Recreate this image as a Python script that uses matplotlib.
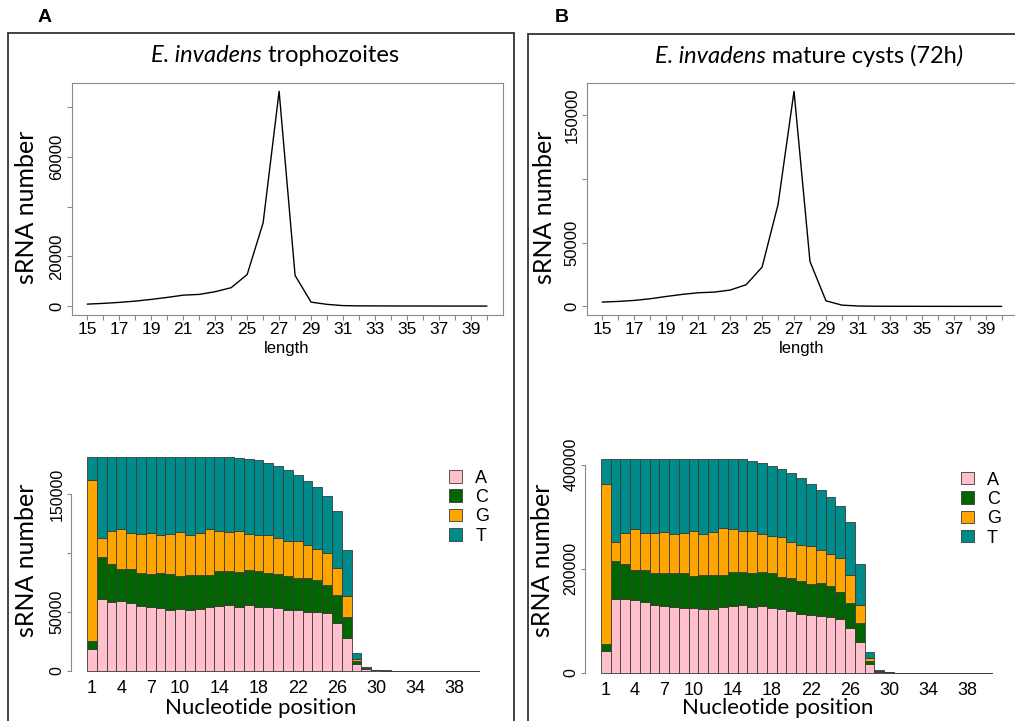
import numpy as np
import matplotlib
matplotlib.use("Agg")
import matplotlib.pyplot as plt
from matplotlib.patches import Rectangle
from matplotlib.offsetbox import TextArea, HPacker, AnnotationBbox

# sRNA length distribution (15..40 nt)
lengths = list(range(15, 41))
troph_len = [800, 1100, 1500, 2000, 2700, 3500, 4400, 4700, 5800, 7400, 12700, 33500, 86300,
             12300, 1600, 700, 200, 100, 80, 60, 50, 40, 30, 20, 20, 10]
cyst_len = [3400, 3900, 4700, 6000, 7800, 9400, 10700, 11200, 12800, 17000, 30800, 79900, 168600,
            35200, 4400, 1000, 300, 150, 100, 80, 60, 40, 30, 20, 20, 10]

# nucleotide composition per position (1..40)
positions = list(range(1, 41))
troph_A = [18700, 61400, 58900, 59700, 57700, 55200, 54300, 53200, 52100, 52900,
           52100, 52600, 54000, 55500, 56000, 54600, 55800, 54600, 54600, 53500,
           52100, 51500, 50400, 50100, 49200, 41000, 28000, 5900, 1400, 500,
           250, 150, 120, 100, 80, 60, 40, 30, 20, 10]
troph_C = [6500, 35400, 31700, 26600, 28900, 27700, 28300, 29700, 30300, 27800,
           29400, 29200, 27800, 29100, 28600, 29200, 30200, 30300, 28600, 29100,
           28600, 27500, 28300, 26900, 23500, 23200, 17800, 2600, 500, 200,
           100, 80, 60, 50, 40, 30, 20, 15, 10, 6]
troph_G = [136400, 15550, 28000, 33700, 30000, 33100, 34000, 32300, 33300, 36700,
           34000, 34800, 38200, 34000, 33100, 34500, 30300, 30300, 32000, 29800,
           29400, 30800, 28300, 26600, 27500, 23000, 17900, 2000, 400, 100,
           100, 60, 50, 40, 30, 20, 15, 10, 8, 5]
troph_T = [19800, 69050, 62800, 61400, 64800, 65400, 64800, 66200, 65700, 64000,
           65900, 64800, 61400, 62800, 63700, 62500, 63700, 63400, 61100, 61600,
           60500, 56300, 54300, 52100, 48100, 48400, 38500, 5100, 800, 300,
           150, 110, 70, 60, 50, 40, 25, 25, 12, 9]

cyst_A = [42200, 142700, 142100, 140200, 136300, 130600, 128600, 126700, 124200, 124800,
          122200, 123500, 126100, 128600, 130600, 126100, 128000, 124200, 122900, 119000,
          113900, 110700, 109400, 107500, 103700, 85800, 60200, 17300, 2600, 600,
          300, 200, 150, 120, 90, 70, 50, 30, 20, 10]
cyst_C = [14100, 72300, 67200, 57600, 60800, 60800, 62800, 64700, 67200, 60800,
          65300, 64000, 61400, 65300, 64000, 65300, 66600, 67200, 62100, 63400,
          62700, 60200, 62800, 58900, 51800, 48600, 35200, 5700, 1000, 250,
          100, 80, 60, 50, 40, 30, 20, 15, 10, 5]
cyst_G = [307200, 37200, 60100, 78000, 71100, 78000, 80000, 76100, 78000, 87000,
          80000, 83900, 90300, 81900, 78700, 81200, 72300, 71000, 76100, 69800,
          69800, 73600, 64600, 61400, 64700, 53100, 35800, 5800, 900, 200,
          100, 70, 50, 40, 30, 20, 15, 10, 8, 4]
cyst_T = [46700, 158000, 140800, 134400, 142000, 140800, 138800, 142700, 140800, 137600,
          142700, 138800, 132400, 134400, 136900, 134400, 136300, 135000, 129900, 131200,
          127400, 117700, 114600, 110100, 99800, 101800, 78700, 12200, 1900, 300,
          150, 100, 80, 60, 50, 40, 30, 20, 12, 6]

bases = ["A", "C", "G", "T"]
base_colors = ["#FFC0CB", "#006400", "#FFA500", "#008B8B"]

W, H = 1015, 721
fig = plt.figure(figsize=(W / 100, H / 100), dpi=100)

TICKFONT = "Liberation Sans"
LABFONT = "Lato"
AXCOL = "#8a8a8a"


def px_axes(l, t, r, b):
    return fig.add_axes([l / W, 1 - b / H, (r - l) / W, (b - t) / H])


def line_panel(box, vals, yticks, ylabels, title_parts, tx, ylab_x):
    ax = px_axes(*box)
    ax.plot(lengths, vals, color="black", lw=1.0)
    ymax = max(vals)
    ax.set_xlim(14, 41)
    ax.set_ylim(-0.04 * ymax, 1.04 * ymax)
    ax.set_xticks(lengths)
    ax.set_xticklabels([str(v) if v % 2 == 1 else "" for v in lengths],
                       fontsize=12.5, family=TICKFONT)
    ax.set_yticks(yticks)
    ax.set_yticklabels(ylabels, fontsize=12, family=TICKFONT, rotation=90, va="center")
    ax.tick_params(direction="out", length=3.6, width=0.8, color=AXCOL, pad=1.5)
    for s in ax.spines.values():
        s.set_color(AXCOL)
        s.set_linewidth(0.8)
    cx = (box[0] + box[2]) / 2
    fig.text(cx / W, 1 - 348 / H, "length", ha="center", va="center",
             fontsize=12, family=TICKFONT)
    fig.text(ylab_x / W, 1 - 207 / H, "sRNA number", rotation=90, ha="center",
             va="center", fontsize=18, family=LABFONT)
    areas = [TextArea(t, textprops=dict(fontsize=17, family=LABFONT,
                                        style=("italic" if it else "normal")))
             for t, it in title_parts]
    pack = HPacker(children=areas, pad=0, sep=0, align="baseline")
    ab = AnnotationBbox(pack, (tx / W, 1 - 56 / H), xycoords="figure fraction",
                        frameon=False, box_alignment=(0.5, 0.5), pad=0)
    fig.add_artist(ab)
    return ax


def bar_panel(box, A, C, G, T, yticks, ylabels, leg_anchor, xlab_x, ylab_x):
    ax = px_axes(*box)
    bottom = np.zeros(len(positions))
    for vals, col, name in zip([A, C, G, T], base_colors, bases):
        ax.bar(positions, vals, width=1.0, bottom=bottom, color=col,
               edgecolor="#3a3a3a", linewidth=0.6, label=name)
        bottom = bottom + np.array(vals)
    top = bottom.max()
    ax.set_xlim(-1.1, 42.1)
    ax.set_ylim(-0.04 * top, 1.04 * top)
    ax.set_xticks([1, 4, 7, 10, 14, 18, 22, 26, 30, 34, 38])
    ax.set_xticklabels(["1", "4", "7", "10", "14", "18", "22", "26", "30", "34", "38"],
                       fontsize=13, family=TICKFONT)
    ax.tick_params(axis="x", length=0, pad=0.5)
    ax.set_yticks(yticks)
    ax.set_yticklabels(ylabels, fontsize=11.5, family=TICKFONT, rotation=90, va="center")
    ax.tick_params(axis="y", direction="out", length=3, width=0.8, color=AXCOL, pad=2)
    for side in ["top", "right", "bottom"]:
        ax.spines[side].set_visible(False)
    ax.spines["left"].set_color(AXCOL)
    ax.spines["left"].set_linewidth(0.8)
    ax.spines["left"].set_bounds(yticks[0], yticks[-1])
    ax.legend(loc="upper left", bbox_to_anchor=leg_anchor, frameon=False,
              prop=dict(family=TICKFONT, size=13), handlelength=0.68,
              handleheight=0.68, handletextpad=0.75, labelspacing=0.13,
              borderpad=0, borderaxespad=0)
    fig.text(xlab_x / W, 1 - 708 / H, "Nucleotide position", ha="center", va="center",
             fontsize=16, family=LABFONT)
    fig.text(ylab_x / W, 1 - 560 / H, "sRNA number", rotation=90, ha="center",
             va="center", fontsize=18, family=LABFONT)
    return ax


line_panel((71.5, 82.7, 502.7, 314.7), troph_len,
           [0, 20000, 40000, 60000, 80000], ["0", "20000", "", "60000", ""],
           [("E. invadens", True), (" trophozoites", False)], 275, 27)
line_panel((586.5, 82.7, 1017.5, 315), cyst_len,
           [0, 50000, 100000, 150000], ["0", "50000", "", "150000"],
           [("E. invadens", True), (" mature cysts (72h", False), (")", True)], 809, 544)

bar_panel((71.3, 448.4, 494.7, 679.6), troph_A, troph_C, troph_G, troph_T,
          [0, 50000, 100000, 150000], ["0", "50000", "", "150000"],
          (0.893, 0.908), 261, 27)
bar_panel((585.1, 450.8, 1007.3, 681.5), cyst_A, cyst_C, cyst_G, cyst_T,
          [0, 200000, 400000], ["0", "200000", "400000"],
          (0.891, 0.91), 778, 543)

# panel frames and letters
fig.add_artist(Rectangle((8.3 / W, -0.05), (514 - 8.3) / W, 1.05 - 33.3 / H,
                         transform=fig.transFigure, fill=False, edgecolor="#333333", lw=1.3))
fig.add_artist(Rectangle((528 / W, -0.05), 0.5, 1.05 - 34 / H,
                         transform=fig.transFigure, fill=False, edgecolor="#333333", lw=1.3))
fig.text(45 / W, 1 - 17 / H, "A", ha="center", va="center", fontsize=14,
         fontweight="bold", family=TICKFONT)
fig.text(562 / W, 1 - 17 / H, "B", ha="center", va="center", fontsize=14,
         fontweight="bold", family=TICKFONT)

fig.savefig("out.png", dpi=100)
